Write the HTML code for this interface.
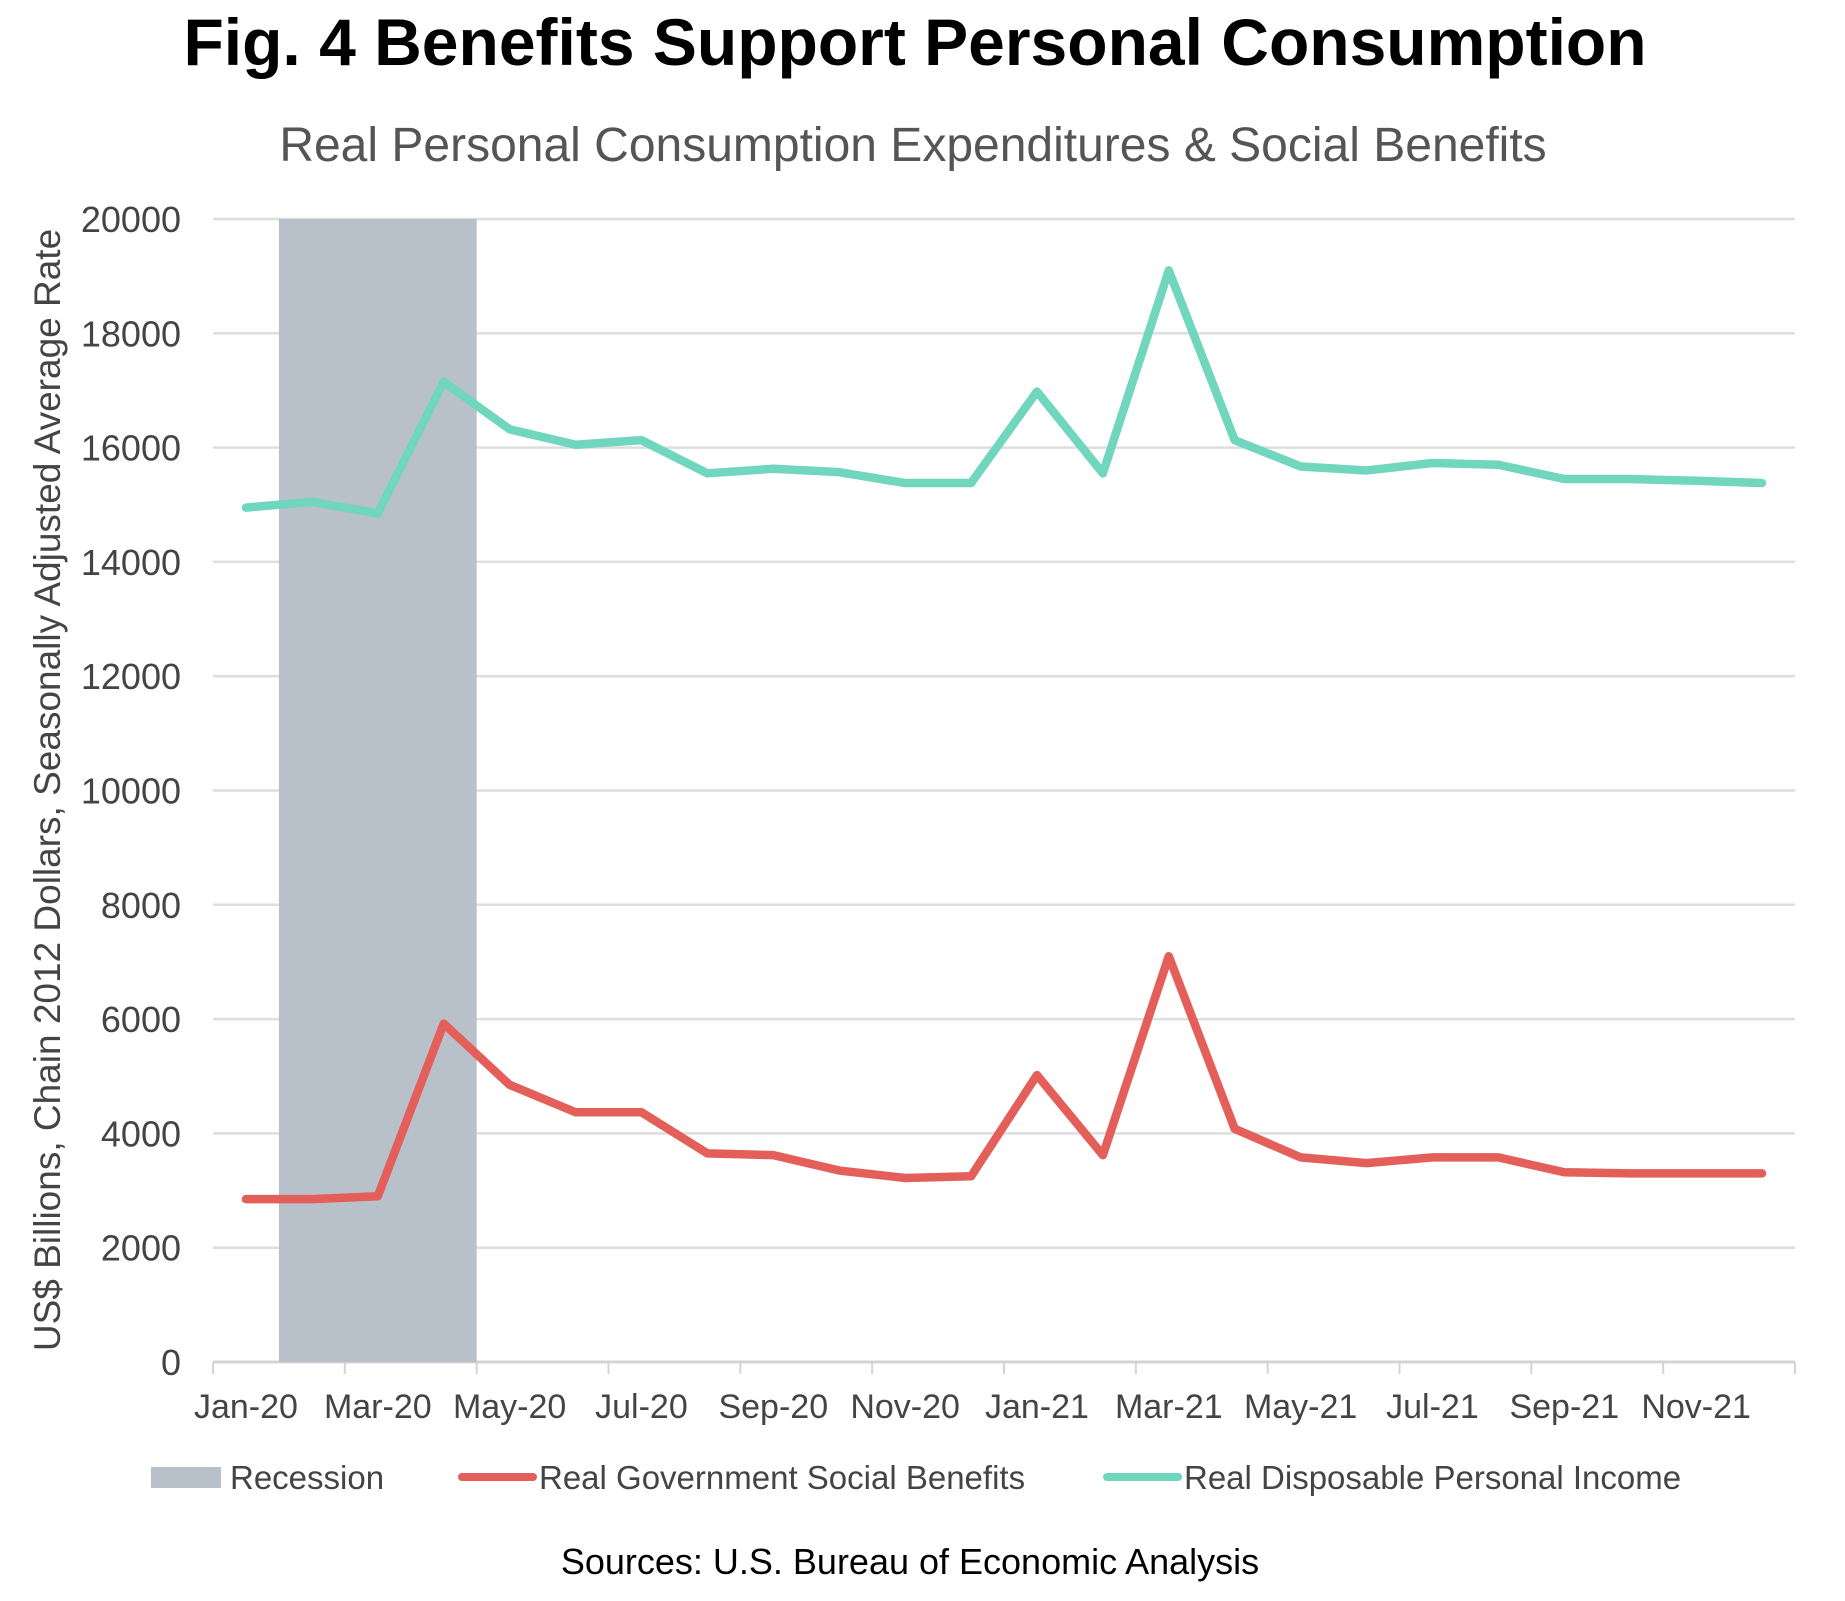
<!DOCTYPE html>
<html><head><meta charset="utf-8"><style>
body{margin:0;background:#fff;}
svg{display:block;font-family:"Liberation Sans",sans-serif;}
</style></head><body>
<svg id="chart" width="1845" height="1601" viewBox="0 0 1845 1601">
<text x="915" y="65" text-anchor="middle" font-size="66" font-weight="bold" fill="#000">Fig. 4 Benefits Support Personal Consumption</text>
<text x="913" y="161" text-anchor="middle" font-size="48" fill="#555">Real Personal Consumption Expenditures &amp;  Social Benefits</text>
<text transform="translate(60,790) rotate(-90)" text-anchor="middle" font-size="37" fill="#444">US$ Billions, Chain 2012 Dollars, Seasonally Adjusted Average Rate</text>
<g id="grid"></g><g id="rec"></g><g id="axis"></g><g id="lines"></g>
<g>
<rect x="151" y="1467" width="70" height="21" fill="#b8c1ca"/>
<text x="230" y="1489" font-size="33" fill="#444">Recession</text>
<line x1="462" y1="1477" x2="533" y2="1477" stroke="#e45e5a" stroke-width="8" stroke-linecap="round"/>
<text x="539" y="1489" font-size="33" fill="#444">Real Government Social Benefits</text>
<line x1="1107" y1="1477" x2="1178" y2="1477" stroke="#70d6bd" stroke-width="8" stroke-linecap="round"/>
<text x="1184" y="1489" font-size="33" fill="#444">Real Disposable Personal Income</text>
</g>
<text x="910" y="1574" text-anchor="middle" font-size="36" fill="#000">Sources: U.S. Bureau of Economic Analysis</text>
</svg>
<script>
const months=["Jan-20","Feb-20","Mar-20","Apr-20","May-20","Jun-20","Jul-20","Aug-20","Sep-20","Oct-20","Nov-20","Dec-20","Jan-21","Feb-21","Mar-21","Apr-21","May-21","Jun-21","Jul-21","Aug-21","Sep-21","Oct-21","Nov-21","Dec-21"];
const income=[14950,15050,14850,17150,16320,16050,16130,15550,15630,15570,15380,15380,16980,15550,19100,16130,15670,15600,15730,15700,15450,15450,15420,15380];
const benefits=[2850,2850,2900,5920,4850,4370,4370,3650,3620,3350,3220,3250,5020,3620,7100,4080,3580,3480,3580,3580,3320,3300,3300,3300];
const yTicks=[0,2000,4000,6000,8000,10000,12000,14000,16000,18000,20000];
const xLabels=["Jan-20","Mar-20","May-20","Jul-20","Sep-20","Nov-20","Jan-21","Mar-21","May-21","Jul-21","Sep-21","Nov-21"];
const recessionStart=1, recessionEnd=3;
const NS="http://www.w3.org/2000/svg";
const L=213,R=1795,T=219,B=1362,n=months.length,bw=(R-L)/n;
const xs=i=>L+bw*(i+0.5);
const ys=v=>B-(v/20000)*(B-T);
function mk(tag,attrs,parent){const e=document.createElementNS(NS,tag);for(const k in attrs)e.setAttribute(k,attrs[k]);document.getElementById(parent).appendChild(e);return e;}
yTicks.forEach(v=>{
 const g=mk("line",{x1:L,x2:R,y1:ys(v),y2:ys(v),stroke:v===0?"#d4d4d4":"#dedede","stroke-width":v===0?3:2.5},"grid");
 
 
 const t=mk("text",{x:181,y:ys(v)+13,"text-anchor":"end","font-size":36,fill:"#444"},"grid");
 t.textContent=v;
 
 
});
const r=mk("rect",{x:L+bw*recessionStart,y:T,width:bw*(recessionEnd-recessionStart+1),height:B-T,fill:"#b8c1ca"},"rec");


for(let i=0;i<=n;i+=2){
 const tk=mk("line",{x1:L+bw*i,x2:L+bw*i,y1:B,y2:B+12,stroke:"#d4d4d4","stroke-width":2},"axis");
 
 
}
xLabels.forEach((lab,j)=>{
 const i=months.indexOf(lab);
 const t=mk("text",{x:xs(i),y:1418,"text-anchor":"middle","font-size":34,fill:"#444"},"axis");
 t.textContent=lab;
 
 
});
function line(data,color,name){
 const p=mk("polyline",{points:data.map((v,i)=>xs(i)+","+ys(v)).join(" "),fill:"none",stroke:color,"stroke-width":8.5,"stroke-linejoin":"round","stroke-linecap":"round"},"lines");
 
 
}
line(income,"#70d6bd","income-line");
line(benefits,"#e45e5a","benefits-line");
</script>
</body></html>
